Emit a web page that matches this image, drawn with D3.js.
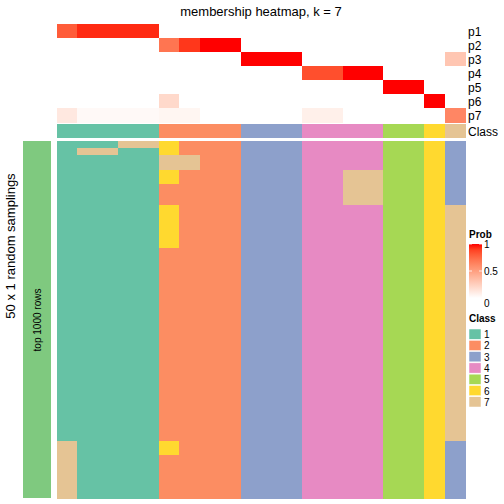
<!DOCTYPE html>
<html><head><meta charset="utf-8">
<script src="https://cdn.jsdelivr.net/npm/d3@7"></script>
<style>body{margin:0;background:#fff}svg{display:block}text{font-family:"Liberation Sans",Arial,Helvetica,sans-serif;fill:#000}</style>
</head><body><svg id="c" width="504" height="504"></svg>
<script>
const classNames = ["1","2","3","4","5","6","7"];
const classColors = ["#66C2A5","#FC8D62","#8DA0CB","#E78AC3","#A6D854","#FFD92F","#E5C494"];
const probRows = ["p1","p2","p3","p4","p5","p6","p7"];
// membership probabilities per column (20 columns)
const p1 = [0.8,0.95,0.95,0.95,0.95,0,0,0,0,0,0,0,0,0,0,0,0,0,0,0];
const p2 = [0,0,0,0,0,0.7,0.92,1,1,0,0,0,0,0,0,0,0,0,0,0];
const p3 = [0,0,0,0,0,0,0,0,0,1,1,1,0,0,0,0,0,0,0,0.3];
const p4 = [0,0,0,0,0,0,0,0,0,0,0,0,0.85,0.85,1,1,0,0,0,0];
const p5 = [0,0,0,0,0,0,0,0,0,0,0,0,0,0,0,0,1,1,0,0];
const p6 = [0,0,0,0,0,0.2,0,0,0,0,0,0,0,0,0,0,0,0,1,0];
const p7 = [0.12,0.03,0.03,0.03,0.03,0.05,0.05,0,0,0,0,0,0.08,0.08,0,0,0,0,0,0.62];
const classRow = ["1","1","1","1","1","2","2","2","2","3","3","3","4","4","4","4","5","5","6","7"];
// 50 random samplings x 20 columns, class label per cell
const samplings = [
"11177622233344445563",
"17711622233344445563",
"11111772233344445563",
"11111772233344445563",
"11111622233344775563",
"11111622233344775563",
"11111222233344775563",
"11111222233344775563",
"11111222233344775563",
"11111622233344445567",
"11111622233344445567",
"11111622233344445567",
"11111622233344445567",
"11111622233344445567",
"11111622233344445567",
"11111222233344445567",
"11111222233344445567",
"11111222233344445567",
"11111222233344445567",
"11111222233344445567",
"11111222233344445567",
"11111222233344445567",
"11111222233344445567",
"11111222233344445567",
"11111222233344445567",
"11111222233344445567",
"11111222233344445567",
"11111222233344445567",
"11111222233344445567",
"11111222233344445567",
"11111222233344445567",
"11111222233344445567",
"11111222233344445567",
"11111222233344445567",
"11111222233344445567",
"11111222233344445567",
"11111222233344445567",
"11111222233344445567",
"11111222233344445567",
"11111222233344445567",
"11111222233344445567",
"11111222233344445567",
"71111622233344445563",
"71111622233344445563",
"71111222233344445563",
"71111222233344445563",
"71111222233344445563",
"71111222233344445563",
"71111222233344445563",
"71111222233344445563"
];
const probTicks = [0, 0.5, 1];

const svg = d3.select("#c");
const probData = [p1,p2,p3,p4,p5,p6,p7];
const nCol = classRow.length;
const x = d3.scaleBand().domain(d3.range(nCol)).range([57, 465]);
const yTop = d3.scaleBand().domain(probRows).range([24, 122]);
const yBot = d3.scaleBand().domain(d3.range(samplings.length)).range([141, 498]);
const probColor = d3.scaleLinear().domain([0,1]).range(["#ffffff","#ff0000"]).interpolate(d3.interpolateLab);
const classColor = d3.scaleOrdinal().domain(classNames).range(classColors);

svg.append("text").attr("x", 261).attr("y", 15.5).attr("text-anchor","middle").attr("font-size", 13).text("membership heatmap, k = 7");

const cells = svg.append("g").attr("shape-rendering","crispEdges");
// top prob heatmap
probRows.forEach((r, i) => {
  cells.append("g").selectAll("rect").data(probData[i]).join("rect")
    .attr("x", (d, j) => x(j)).attr("y", yTop(r))
    .attr("width", x.bandwidth() + 0.5).attr("height", yTop.bandwidth() + 0.5)
    .attr("fill", d => probColor(d));
  svg.append("text").attr("x", 468).attr("y", yTop(r) + yTop.bandwidth()/2 + 4.5)
    .attr("font-size", 12).text(r);
});
// class row
cells.append("g").selectAll("rect").data(classRow).join("rect")
  .attr("x", (d, j) => x(j)).attr("y", 124).attr("width", x.bandwidth() + 0.5).attr("height", 13.7)
  .attr("fill", d => classColor(d));
svg.append("text").attr("x", 468).attr("y", 135.5).attr("font-size", 12).text("Class");

// bottom samplings heatmap
samplings.forEach((row, i) => {
  cells.append("g").selectAll("rect").data(row.split("")).join("rect")
    .attr("x", (d, j) => x(j)).attr("y", yBot(i))
    .attr("width", x.bandwidth() + 0.5).attr("height", yBot.bandwidth() + 0.5)
    .attr("fill", d => classColor(d));
});

// left annotation bar
svg.append("rect").attr("x", 23).attr("y", 141).attr("width", 28).attr("height", 357).attr("fill", "#7FC97F");
svg.append("text").attr("transform", "translate(41,320) rotate(-90)").attr("text-anchor","middle")
  .attr("font-size", 10).text("top 1000 rows");
svg.append("text").attr("transform", "translate(14.5,246) rotate(-90)").attr("text-anchor","middle")
  .attr("font-size", 13).text("50 x 1 random samplings");

// Prob legend
svg.append("text").attr("x", 469).attr("y", 238).attr("font-size", 10).attr("font-weight","bold").text("Prob");
const defs = svg.append("defs");
const grad = defs.append("linearGradient").attr("id","pg").attr("x1",0).attr("y1",1).attr("x2",0).attr("y2",0);
d3.range(0, 1.001, 0.1).forEach(t => grad.append("stop").attr("offset", t).attr("stop-color", probColor(t)));
const yLeg = d3.scaleLinear().domain([0,1]).range([298, 244]);
svg.append("rect").attr("x", 469).attr("y", yLeg(1)).attr("width", 13).attr("height", yLeg(0) - yLeg(1)).attr("fill","url(#pg)");
probTicks.forEach(t => {
  if (t > 0) {
    svg.append("line").attr("x1", 469).attr("x2", 472).attr("y1", yLeg(t)).attr("y2", yLeg(t)).attr("stroke","#fff").attr("stroke-width",0.8);
    svg.append("line").attr("x1", 479).attr("x2", 482).attr("y1", yLeg(t)).attr("y2", yLeg(t)).attr("stroke","#fff").attr("stroke-width",0.8);
  }
  svg.append("text").attr("x", 484).attr("y", (t === 0 ? 303 : yLeg(t)) + 4).attr("font-size", 10).text(t);
});

// Class legend
svg.append("text").attr("x", 469).attr("y", 322).attr("font-size", 10).attr("font-weight","bold").text("Class");
const yCls = d3.scaleBand().domain(classNames).range([329, 408]);
classNames.forEach(c => {
  svg.append("rect").attr("x", 469).attr("y", yCls(c)).attr("width", 12).attr("height", yCls.bandwidth() - 1)
    .attr("fill", classColor(c)).attr("stroke","#fff").attr("stroke-width",0.5);
  svg.append("text").attr("x", 484).attr("y", yCls(c) + yCls.bandwidth()/2 + 3.5).attr("font-size", 10).text(c);
});
</script></body></html>
